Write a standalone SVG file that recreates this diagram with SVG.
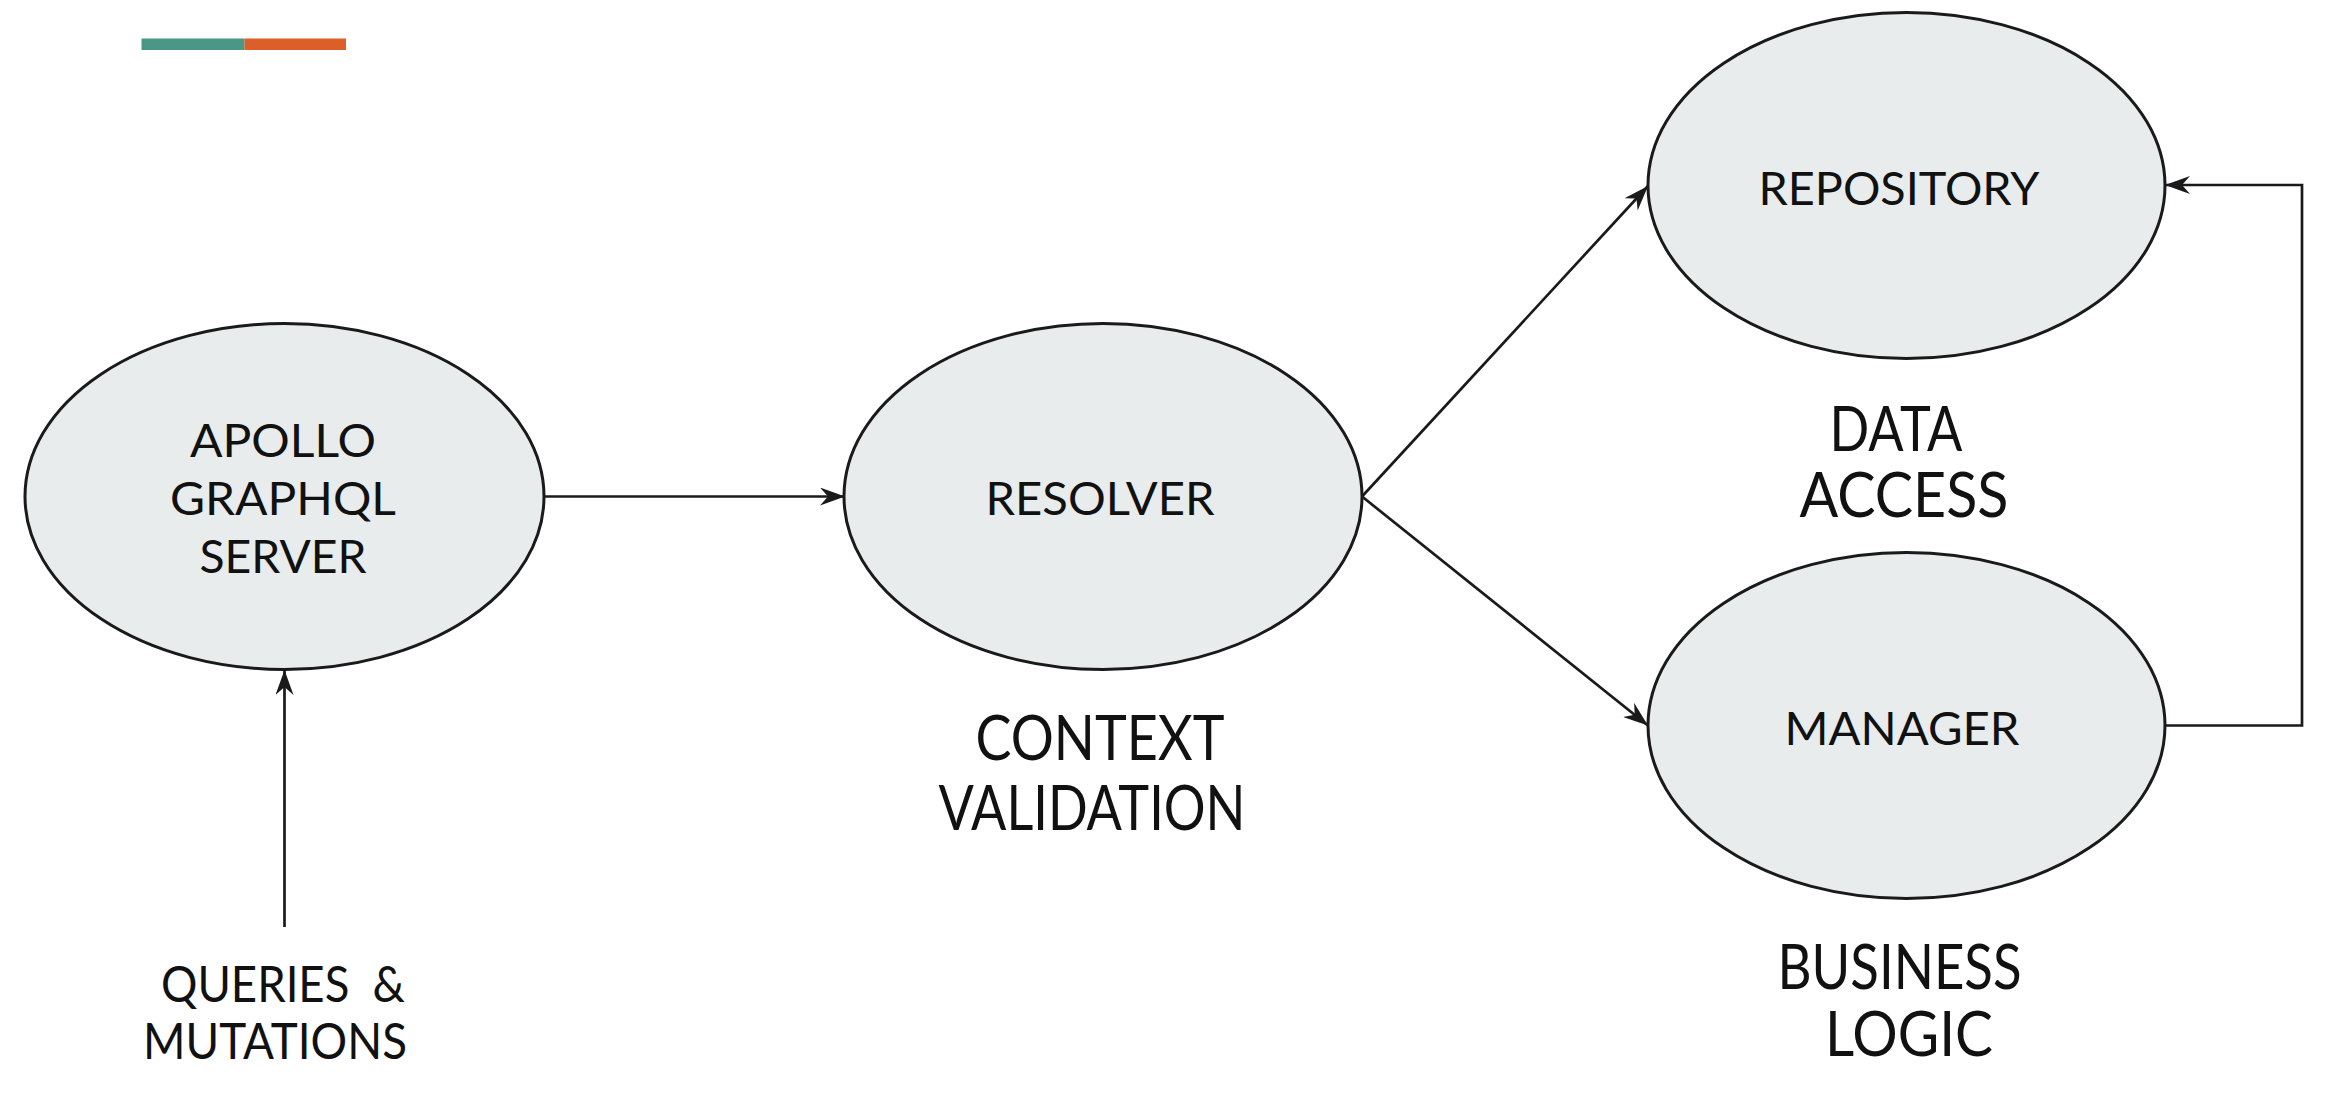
<svg xmlns="http://www.w3.org/2000/svg" width="2336" height="1100" viewBox="0 0 2336 1100">
<style>
.node ellipse{fill:#e8eced;stroke:#1a1a1a;stroke-width:3}
text{font-family:Lato,"Liberation Sans",sans-serif;fill:#111;text-anchor:middle}
.nl{font-size:47px}
.sl{font-size:61px}
.ql{font-size:50px;text-anchor:start}
.conn path{fill:none;stroke:#1a1a1a;stroke-width:2.7}
</style>
<defs>
<marker id="arr" markerUnits="userSpaceOnUse" markerWidth="26" markerHeight="18" refX="25" refY="9" orient="auto">
<path d="M0,0 L25,9 L0,18 L8,9 z" fill="#1a1a1a"/>
</marker>
</defs>
<rect x="141.5" y="38.5" width="103" height="11.5" fill="#4a9787"/>
<rect x="244.5" y="38.5" width="101.5" height="11.5" fill="#dc5f2a"/>
<g class="conn">
<path d="M284.5,927 L284.5,670" marker-end="url(#arr)"/>
<path d="M544,496.5 L845,496.5" marker-end="url(#arr)"/>
<path d="M1362,496.5 L1648,186" marker-end="url(#arr)"/>
<path d="M1362,496.5 L1648,725.5" marker-end="url(#arr)"/>
<path d="M2164.5,725.5 L2302,725.5 L2302,185 L2165,185" marker-end="url(#arr)"/>
</g>
<g id="apollo" class="node">
<ellipse cx="284.5" cy="496.5" rx="259.5" ry="173"/>
<text class="nl" x="283" y="457" textLength="186" lengthAdjust="spacingAndGlyphs">APOLLO</text>
<text class="nl" x="283" y="515" textLength="226" lengthAdjust="spacingAndGlyphs">GRAPHQL</text>
<text class="nl" x="283" y="573" textLength="167" lengthAdjust="spacingAndGlyphs">SERVER</text>
</g>
<g id="resolver" class="node">
<ellipse cx="1103" cy="496.5" rx="259" ry="173"/>
<text class="nl" x="1100" y="515" textLength="229" lengthAdjust="spacingAndGlyphs">RESOLVER</text>
</g>
<g id="repository" class="node">
<ellipse cx="1906.5" cy="185.5" rx="258.5" ry="173"/>
<text class="nl" x="1899" y="205" textLength="281" lengthAdjust="spacingAndGlyphs">REPOSITORY</text>
</g>
<g id="manager" class="node">
<ellipse cx="1906.5" cy="725.5" rx="258.5" ry="173"/>
<text class="nl" x="1902" y="745" textLength="235" lengthAdjust="spacingAndGlyphs">MANAGER</text>
</g>
<g id="labels">
<text class="sl" x="1896" y="451" textLength="133" lengthAdjust="spacingAndGlyphs">DATA</text>
<text class="sl" x="1904" y="517" textLength="209" lengthAdjust="spacingAndGlyphs">ACCESS</text>
<text class="sl" x="1100" y="760" textLength="249" lengthAdjust="spacingAndGlyphs">CONTEXT</text>
<text class="sl" x="1092" y="830" textLength="307" lengthAdjust="spacingAndGlyphs">VALIDATION</text>
<text class="sl" x="1899.5" y="989" textLength="244" lengthAdjust="spacingAndGlyphs">BUSINESS</text>
<text class="sl" x="1909" y="1056" textLength="168" lengthAdjust="spacingAndGlyphs">LOGIC</text>
<text class="ql" x="161" y="1002" xml:space="preserve" textLength="244" lengthAdjust="spacingAndGlyphs">QUERIES  &amp;</text>
<text class="ql" x="143" y="1059" textLength="264" lengthAdjust="spacingAndGlyphs">MUTATIONS</text>
</g>
</svg>
